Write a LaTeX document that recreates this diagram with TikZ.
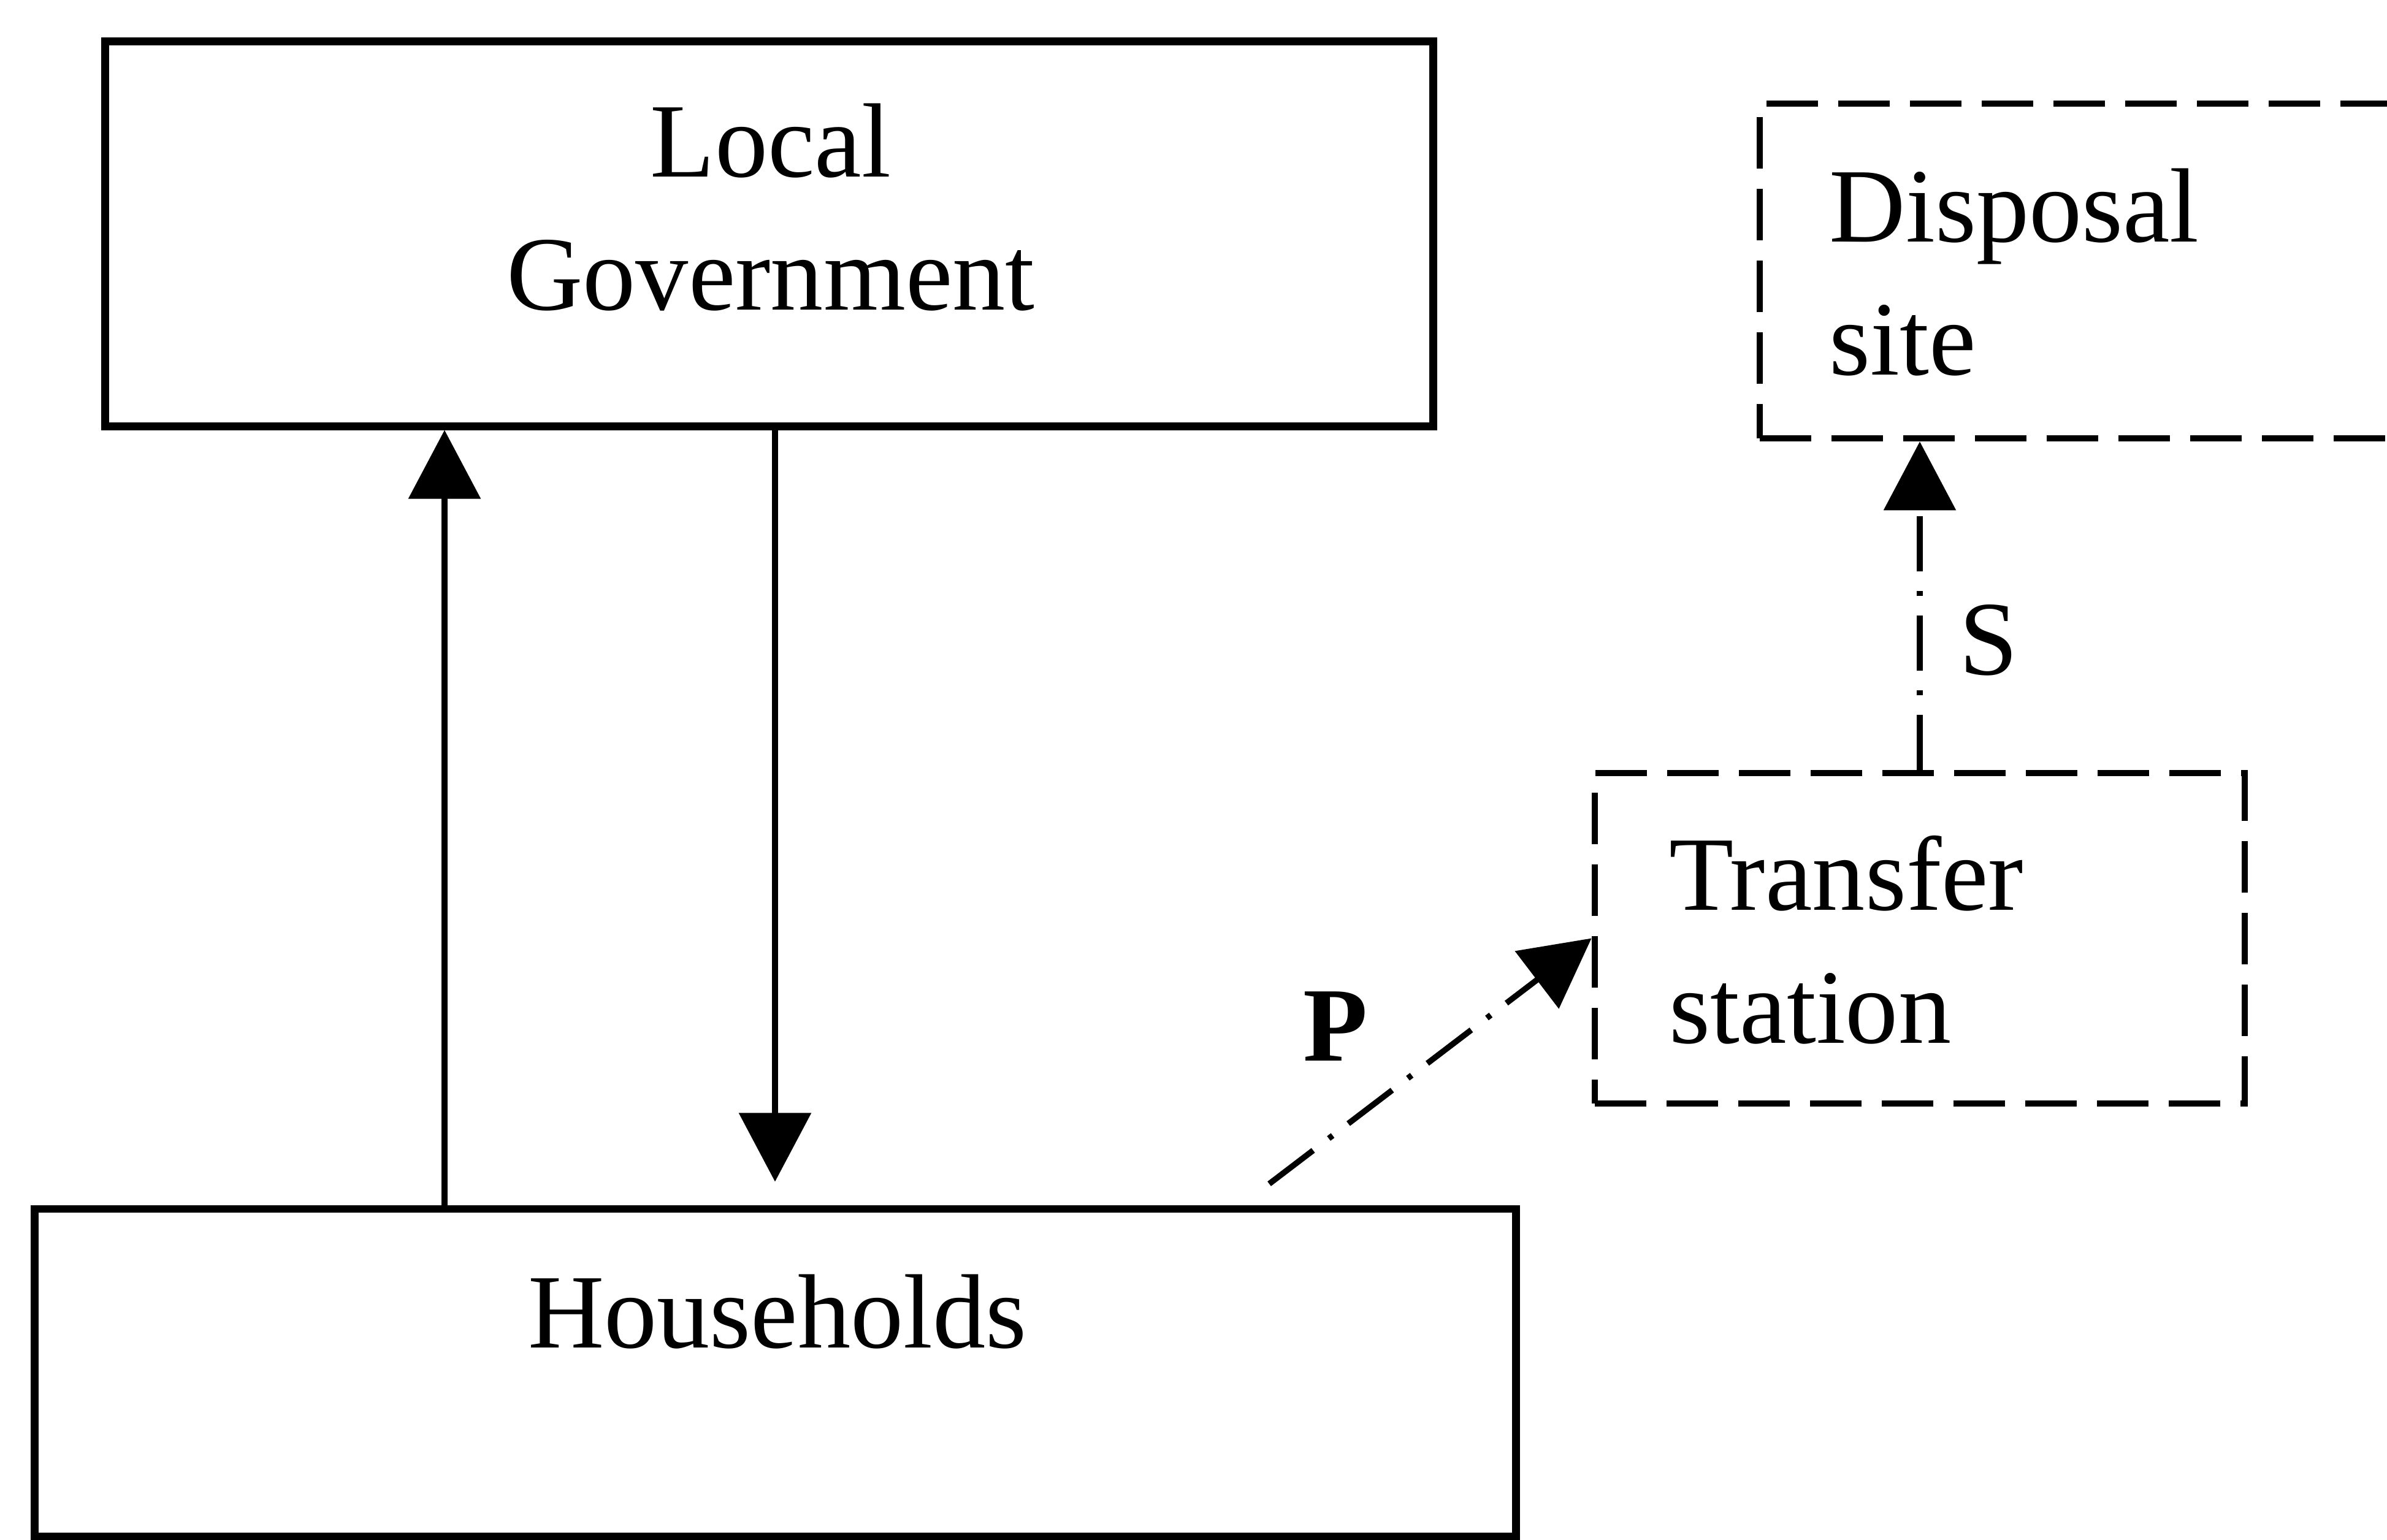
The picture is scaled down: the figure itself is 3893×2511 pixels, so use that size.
\documentclass[tikz,border=0pt]{standalone}
\usepackage{fontspec}
\setmainfont{Liberation Serif}
\usetikzlibrary{arrows.meta}

\begin{document}
\begin{tikzpicture}[x=0.01cm, y=-0.01cm,
  solidbox/.style={draw, line width=3.6pt, inner sep=0pt},
  dashbox/.style={draw, line width=2.9pt, inner sep=0pt, dash pattern=on 0.84cm off 0.33cm},
  txt/.style={font=\fontsize{49}{61.5}\selectfont, inner sep=0pt},
  flow/.style={line width=2.7pt, -{Triangle[length=1.12cm, width=1.16cm]}},
  dashdot/.style={flow, dash pattern=on 0.9cm off 0.32cm on 0.08cm off 0.32cm}
]
\useasboundingbox (0,0) rectangle (3893,2511);
\clip (0,0) rectangle (3893,2511);

% actors
\node[solidbox, minimum width=21.65cm, minimum height=6.27cm] (lg) at (1254.5,381.5) {};
\node[solidbox, minimum width=24.15cm, minimum height=5.34cm] (hh) at (1264.5,2239) {};
\node[dashbox, minimum width=10.6cm, minimum height=5.39cm] (ts) at (3131,1530.5) {};
\node[dashbox, minimum width=11.2cm, minimum height=5.46cm] (ds) at (3430,442) {};

% box texts (multi-line nodes sit on the baseline of their last line)
\node[txt, align=center, anchor=base] (lgtext) at (1257,505) {Local\\Government};
\node[txt, anchor=base] (hhtext) at (1268,2198) {Households};
\node[txt, align=left, anchor=base west] (tstext) at (2722,1701) {Transfer\\station};
\node[txt, align=left, anchor=base west] (dstext) at (2983,611) {Disposal\\site};

% connector columns
\coordinate (upcol) at (725,1000);
\coordinate (downcol) at (1264,1000);
\coordinate (pstart) at (2070,1931);

% flows between households and government
\draw[flow] (upcol |- hh.north) -- (upcol |- lg.south);
\draw[flow, shorten >=0.38cm] (downcol |- lg.south) -- (downcol |- hh.north);

% waste flows
\draw[dashdot] (pstart) -- (ts.west);
\draw[dashdot] (ts.north) -- (ts.north |- ds.south);

% flow labels
\node[txt, font=\fontsize{49}{61.5}\selectfont\bfseries, anchor=base] (plabel) at (2178,1730) {P};
\node[txt, anchor=base] (slabel) at (3243,1100) {S};
\end{tikzpicture}
\end{document}
